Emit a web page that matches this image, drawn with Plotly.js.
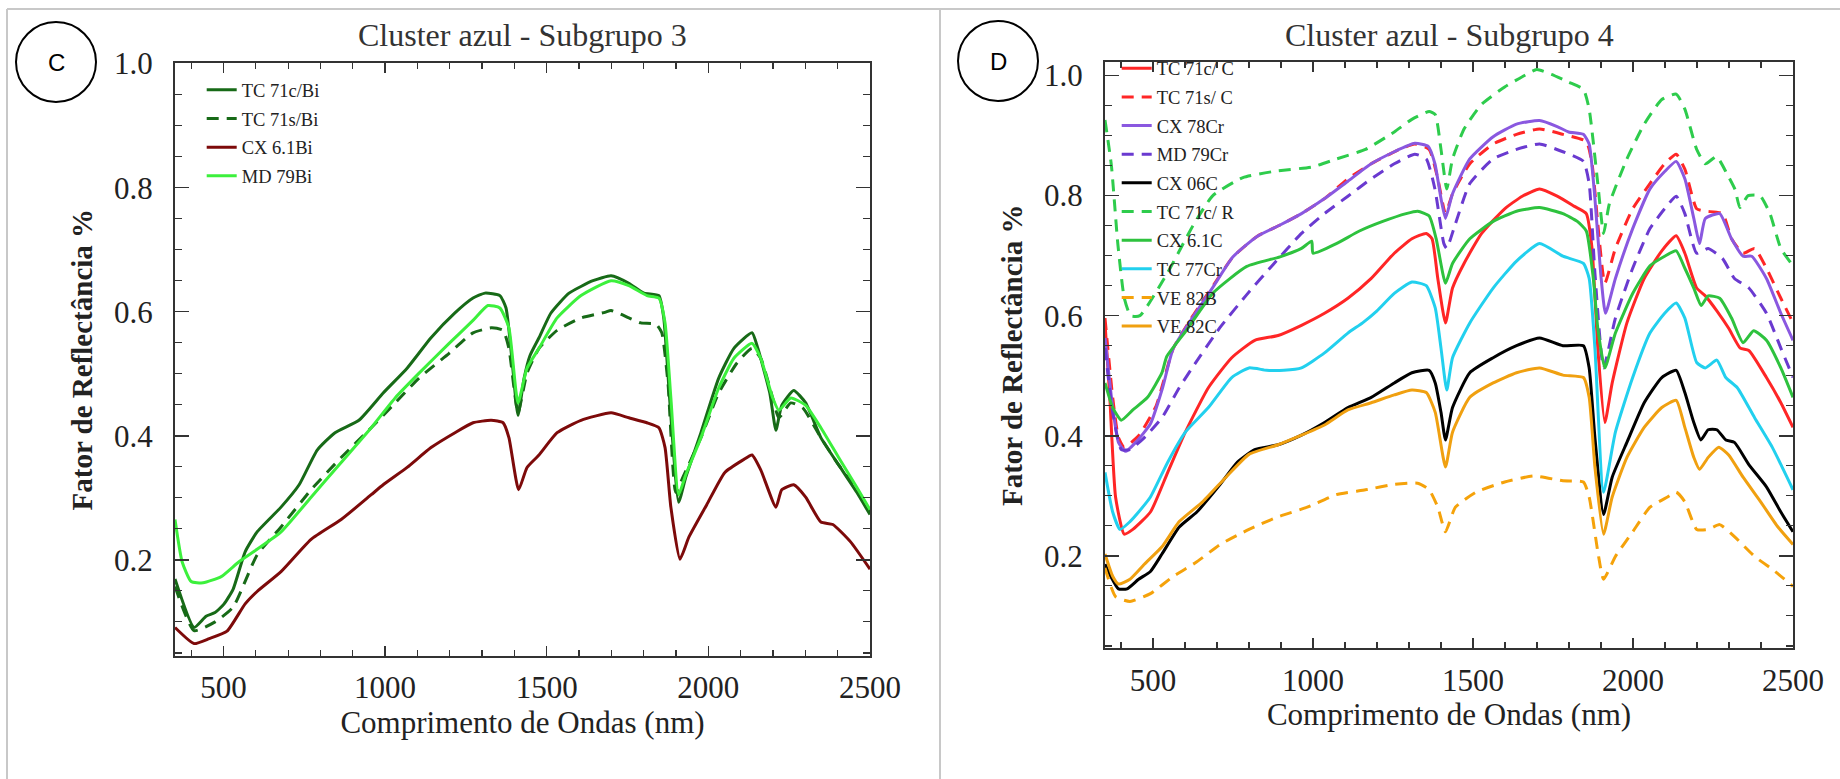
<!DOCTYPE html>
<html><head><meta charset="utf-8">
<script src="https://cdn.plot.ly/plotly-3.0.1.min.js"></script>
<style>html,body{margin:0;padding:0;background:#fff;} #chart{width:1840px;height:779px;}</style>
</head><body><div id="chart"></div>
<script>
// ---------- Panel C : Cluster azul - Subgrupo 3 ----------
const tc71cBi_x = [350,409,446,474,502,530,567,604,678,734,790,845,919,994,1068,1142,1216,1272,1309,1355,1374,1392,1411,1430,1448,1476,1513,1569,1643,1699,1754,1801,1847,1862,1880,1908,1930,1977,2032,2079,2135,2153,2190,2209,2227,2264,2301,2348,2403,2459,2500];
const tc71cBi_y = [0.169,0.091,0.109,0.115,0.129,0.153,0.213,0.245,0.285,0.321,0.377,0.405,0.425,0.469,0.509,0.558,0.598,0.622,0.630,0.626,0.606,0.525,0.433,0.493,0.529,0.558,0.598,0.630,0.650,0.658,0.646,0.630,0.626,0.590,0.461,0.293,0.333,0.405,0.493,0.541,0.566,0.541,0.469,0.409,0.449,0.473,0.453,0.397,0.353,0.309,0.273];
const tc71sBi_x = [350,409,474,530,604,678,771,864,957,1031,1105,1198,1272,1328,1365,1383,1411,1439,1476,1532,1606,1680,1699,1754,1791,1838,1856,1875,1899,1921,1977,2032,2088,2135,2162,2199,2218,2255,2292,2348,2403,2459,2500];
const tc71sBi_y = [0.157,0.086,0.100,0.124,0.208,0.253,0.313,0.365,0.413,0.453,0.493,0.533,0.566,0.574,0.570,0.541,0.437,0.501,0.541,0.570,0.590,0.599,0.602,0.590,0.582,0.580,0.566,0.485,0.309,0.333,0.397,0.469,0.517,0.541,0.525,0.461,0.429,0.453,0.445,0.397,0.353,0.313,0.277];
const cx61Bi_x = [350,409,456,511,567,604,678,771,864,957,994,1068,1142,1216,1272,1328,1365,1383,1413,1439,1476,1532,1606,1699,1754,1810,1847,1866,1884,1912,1940,1995,2051,2107,2135,2162,2209,2227,2264,2301,2348,2385,2440,2500];
const cx61Bi_y = [0.091,0.065,0.073,0.085,0.129,0.149,0.181,0.233,0.265,0.305,0.321,0.349,0.381,0.405,0.421,0.425,0.421,0.397,0.313,0.349,0.369,0.405,0.425,0.437,0.429,0.421,0.413,0.381,0.285,0.201,0.237,0.289,0.341,0.361,0.369,0.345,0.285,0.313,0.321,0.301,0.261,0.257,0.229,0.185];
const md79Bi_x = [350,372,400,437,493,548,604,678,771,864,957,1031,1105,1198,1272,1318,1355,1383,1411,1439,1476,1532,1606,1699,1754,1810,1847,1866,1884,1908,1930,1977,2032,2079,2135,2162,2199,2218,2255,2301,2348,2403,2459,2500];
const md79Bi_y = [0.265,0.197,0.165,0.163,0.173,0.197,0.217,0.245,0.301,0.357,0.413,0.461,0.501,0.549,0.586,0.610,0.606,0.574,0.453,0.509,0.541,0.590,0.626,0.650,0.642,0.626,0.622,0.582,0.461,0.305,0.337,0.397,0.477,0.525,0.549,0.525,0.461,0.441,0.461,0.449,0.413,0.365,0.317,0.281];

// ---------- Panel D : Cluster azul - Subgrupo 4 ----------
const tc71cC_x = [350,365,383,410,437,492,546,601,673,746,818,891,964,1036,1109,1182,1254,1309,1354,1372,1390,1414,1436,1472,1527,1599,1654,1708,1763,1817,1854,1872,1890,1912,1935,1981,2035,2090,2135,2162,2199,2226,2262,2299,2335,2362,2417,2462,2500];
const tc71cC_y = [0.588,0.464,0.298,0.236,0.244,0.273,0.339,0.406,0.480,0.530,0.559,0.567,0.584,0.604,0.629,0.662,0.704,0.728,0.737,0.728,0.662,0.588,0.646,0.687,0.737,0.778,0.799,0.811,0.799,0.782,0.770,0.712,0.546,0.422,0.488,0.588,0.662,0.708,0.733,0.704,0.646,0.633,0.608,0.579,0.546,0.542,0.497,0.455,0.414];
const tc71sC_x = [350,374,392,410,455,510,563,625,688,750,825,897,964,1036,1109,1182,1254,1318,1363,1390,1414,1436,1490,1563,1636,1708,1781,1854,1872,1890,1912,1945,1999,2053,2099,2135,2162,2199,2226,2280,2308,2344,2380,2417,2462,2500];
const tc71sC_y = [0.596,0.464,0.397,0.381,0.400,0.450,0.545,0.600,0.650,0.698,0.732,0.751,0.770,0.795,0.828,0.853,0.873,0.886,0.877,0.828,0.770,0.803,0.853,0.886,0.902,0.911,0.902,0.890,0.853,0.753,0.654,0.712,0.778,0.820,0.853,0.869,0.844,0.778,0.774,0.770,0.728,0.704,0.712,0.679,0.629,0.588];
const cx78Cr_x = [350,374,392,414,446,492,530,563,625,688,750,825,897,964,1036,1109,1182,1254,1318,1360,1381,1400,1414,1436,1490,1563,1636,1708,1763,1799,1845,1863,1881,1899,1914,1945,1999,2053,2099,2135,2162,2190,2208,2226,2271,2308,2344,2371,2417,2462,2500];
const cx78Cr_y = [0.563,0.447,0.389,0.374,0.389,0.420,0.480,0.545,0.598,0.648,0.698,0.732,0.751,0.770,0.795,0.824,0.853,0.873,0.887,0.882,0.853,0.795,0.762,0.803,0.861,0.898,0.919,0.925,0.915,0.906,0.902,0.886,0.795,0.671,0.604,0.662,0.745,0.811,0.840,0.857,0.828,0.762,0.720,0.762,0.770,0.728,0.699,0.699,0.662,0.604,0.559];
const md79Cr_x = [350,374,401,428,473,528,582,625,709,793,875,964,1036,1109,1182,1254,1318,1354,1381,1409,1418,1445,1490,1563,1636,1708,1781,1845,1863,1881,1908,1945,1999,2053,2099,2135,2162,2199,2235,2280,2317,2362,2417,2462,2500];
const md79Cr_y = [0.546,0.439,0.377,0.377,0.397,0.430,0.480,0.515,0.580,0.635,0.685,0.737,0.770,0.799,0.828,0.853,0.869,0.861,0.811,0.720,0.712,0.753,0.820,0.861,0.877,0.886,0.873,0.857,0.820,0.671,0.513,0.596,0.679,0.745,0.778,0.799,0.770,0.704,0.712,0.695,0.662,0.646,0.604,0.546,0.497];
const cx06C_x = [350,368,392,419,455,492,528,582,637,710,764,818,891,964,1036,1109,1182,1254,1309,1363,1382,1400,1414,1436,1490,1563,1636,1708,1781,1845,1863,1881,1908,1935,1981,2035,2090,2135,2162,2190,2212,2235,2262,2290,2317,2362,2417,2462,2500];
const cx06C_y = [0.186,0.166,0.145,0.145,0.161,0.174,0.203,0.248,0.273,0.319,0.356,0.377,0.385,0.401,0.422,0.447,0.464,0.488,0.505,0.509,0.488,0.439,0.393,0.447,0.505,0.530,0.550,0.563,0.550,0.550,0.513,0.397,0.269,0.331,0.389,0.455,0.497,0.509,0.472,0.422,0.393,0.410,0.410,0.393,0.389,0.352,0.315,0.273,0.240];
const tc71cR_x = [350,370,390,410,430,459,544,625,687,781,875,1000,1073,1164,1254,1309,1363,1382,1400,1418,1436,1472,1527,1599,1654,1699,1745,1799,1845,1863,1890,1908,1926,1981,2035,2090,2135,2162,2199,2226,2261,2293,2319,2334,2360,2397,2428,2462,2500];
const tc71cR_y = [0.926,0.850,0.720,0.630,0.600,0.600,0.670,0.750,0.800,0.830,0.840,0.848,0.861,0.877,0.906,0.927,0.940,0.935,0.877,0.811,0.861,0.911,0.952,0.981,0.998,1.010,1.002,0.989,0.977,0.944,0.820,0.737,0.786,0.861,0.919,0.960,0.969,0.944,0.877,0.853,0.865,0.837,0.810,0.780,0.800,0.800,0.770,0.712,0.683];
const cx61C_x = [350,374,401,437,483,528,543,605,688,793,897,964,996,1000,1073,1145,1218,1291,1327,1363,1385,1414,1436,1490,1563,1636,1708,1781,1826,1854,1876,1890,1912,1945,1999,2053,2099,2135,2162,2190,2213,2235,2271,2308,2344,2377,2417,2462,2500];
const cx61C_y = [0.488,0.447,0.426,0.443,0.464,0.505,0.532,0.576,0.638,0.682,0.698,0.712,0.724,0.704,0.720,0.741,0.757,0.770,0.774,0.766,0.728,0.654,0.687,0.728,0.757,0.774,0.780,0.770,0.757,0.741,0.662,0.579,0.513,0.571,0.637,0.683,0.699,0.708,0.679,0.646,0.617,0.633,0.629,0.596,0.555,0.575,0.559,0.513,0.464];
const tc77Cr_x = [350,374,397,428,455,492,546,601,673,746,800,855,909,964,1036,1109,1155,1200,1254,1309,1354,1382,1400,1418,1436,1490,1563,1636,1708,1781,1845,1863,1881,1908,1945,1999,2053,2099,2135,2162,2199,2226,2262,2290,2326,2380,2435,2500];
const tc77Cr_y = [0.339,0.273,0.244,0.257,0.273,0.298,0.356,0.406,0.447,0.497,0.513,0.509,0.509,0.513,0.538,0.571,0.588,0.608,0.637,0.656,0.650,0.613,0.546,0.476,0.530,0.588,0.646,0.691,0.720,0.699,0.687,0.662,0.546,0.306,0.406,0.497,0.571,0.604,0.621,0.596,0.522,0.513,0.526,0.497,0.480,0.430,0.381,0.310];
const ve82B_x = [350,383,428,492,564,637,710,800,891,982,1073,1164,1254,1327,1363,1390,1414,1445,1509,1599,1690,1781,1845,1863,1890,1908,1945,1999,2053,2108,2135,2162,2199,2235,2271,2317,2380,2444,2500];
const ve82B_y = [0.180,0.132,0.124,0.137,0.166,0.190,0.219,0.244,0.265,0.281,0.302,0.310,0.319,0.321,0.310,0.281,0.240,0.281,0.306,0.323,0.333,0.325,0.323,0.298,0.207,0.161,0.199,0.240,0.281,0.298,0.306,0.290,0.244,0.244,0.252,0.232,0.199,0.174,0.149];
const ve82C_x = [350,374,392,428,473,528,582,655,728,800,891,964,1036,1109,1182,1254,1309,1354,1382,1414,1436,1490,1563,1636,1708,1781,1845,1863,1881,1908,1935,1981,2035,2090,2135,2162,2190,2208,2235,2268,2299,2344,2399,2453,2500];
const ve82C_y = [0.203,0.166,0.153,0.161,0.186,0.215,0.257,0.290,0.331,0.369,0.385,0.401,0.418,0.443,0.455,0.468,0.476,0.472,0.439,0.348,0.406,0.464,0.488,0.505,0.513,0.501,0.497,0.464,0.348,0.236,0.298,0.364,0.414,0.447,0.459,0.414,0.364,0.344,0.364,0.381,0.368,0.331,0.290,0.248,0.219];

// ---------- Text ----------
const titleC = 'Cluster azul - Subgrupo 3';
const titleD = 'Cluster azul - Subgrupo 4';
const xTitle = 'Comprimento de Ondas (nm)';
const yTitle = 'Fator de Reflectância %';

const W = 1840, H = 779;
const px = v => v / W;
const py = v => 1 - v / H;
const SERIF = 'Liberation Serif, Times New Roman, serif';
const DASH = '12px,8px';

function tr(x, y, name, color, dash, axis, legend) {
  return {
    type: 'scatter', mode: 'lines', x: x, y: y, name: name,
    xaxis: axis[0], yaxis: axis[1], legend: legend, legendgroup: name,
    line: {color: color, width: 3, dash: dash || 'solid', shape: 'spline', smoothing: 0.5},
    hoverinfo: 'skip'
  };
}
const A1 = ['x', 'y'], A2 = ['x2', 'y2'];
const traces = [
  tr(tc71cBi_x, tc71cBi_y, 'TC 71c/Bi', '#176a17', null, A1, 'legend'),
  tr(tc71sBi_x, tc71sBi_y, 'TC 71s/Bi', '#176a17', DASH, A1, 'legend'),
  tr(cx61Bi_x, cx61Bi_y, 'CX 6.1Bi', '#7d0a0a', null, A1, 'legend'),
  tr(md79Bi_x, md79Bi_y, 'MD 79Bi', '#3cf03c', null, A1, 'legend'),

  tr(tc71cC_x, tc71cC_y, 'TC 71c/ C', '#ff2626', null, A2, 'legend2'),
  tr(tc71sC_x, tc71sC_y, 'TC 71s/ C', '#ff2626', DASH, A2, 'legend2'),
  tr(cx78Cr_x, cx78Cr_y, 'CX 78Cr', '#8a58e0', null, A2, 'legend2'),
  tr(md79Cr_x, md79Cr_y, 'MD 79Cr', '#6a3ad0', DASH, A2, 'legend2'),
  tr(cx06C_x, cx06C_y, 'CX 06C', '#000000', null, A2, 'legend2'),
  tr(tc71cR_x, tc71cR_y, 'TC 71c/ R', '#2ecc4c', DASH, A2, 'legend2'),
  tr(cx61C_x, cx61C_y, 'CX 6.1C', '#2ec23e', null, A2, 'legend2'),
  tr(tc77Cr_x, tc77Cr_y, 'TC 77Cr', '#22d0ee', null, A2, 'legend2'),
  tr(ve82B_x, ve82B_y, 'VE 82B', '#f5a20a', DASH, A2, 'legend2'),
  tr(ve82C_x, ve82C_y, 'VE 82C', '#f0a010', null, A2, 'legend2')
];

function xax(domain) {
  return {
    domain: domain, range: [350, 2500], tick0: 0, dtick: 500,
    ticks: 'inside', ticklen: 10, tickwidth: 1.5, tickcolor: '#333',
    minor: {dtick: 100, tick0: 0, ticks: 'inside', ticklen: 6, tickwidth: 1.2, tickcolor: '#333'},
    showline: true, linecolor: '#333', linewidth: 2, mirror: 'ticks',
    showgrid: false, zeroline: false, ticklabelstandoff: 3,
    tickfont: {family: SERIF, size: 31, color: '#222'},
    title: {text: xTitle, font: {family: SERIF, size: 31, color: '#222'}, standoff: 0}
  };
}
function yax(domain, range, anchor) {
  return {
    domain: domain, range: range, anchor: anchor, tick0: 0, dtick: 0.2, tickformat: '.1f',
    ticks: 'inside', ticklen: 14, tickwidth: 1.5, tickcolor: '#333',
    minor: {dtick: 0.05, tick0: 0, ticks: 'inside', ticklen: 7, tickwidth: 1.2, tickcolor: '#333'},
    showline: true, linecolor: '#333', linewidth: 2, mirror: 'ticks',
    showgrid: false, zeroline: false, ticklabelstandoff: 14,
    tickfont: {family: SERIF, size: 31, color: '#222'},
    title: {text: yTitle, font: {family: SERIF, size: 29, color: '#222', weight: 'bold'}, standoff: 13}
  };
}
function leg(xPx, yPx) {
  return {
    x: px(xPx), xanchor: 'left', y: py(yPx), yanchor: 'top',
    bgcolor: 'rgba(0,0,0,0)', borderwidth: 0, traceorder: 'grouped', tracegroupgap: 1.6,
    font: {family: SERIF, size: 18.5, color: '#222'}, itemwidth: 30, itemclick: false, itemdoubleclick: false
  };
}

const grey = {color: '#c8c8c8', width: 2};
const layout = {
  width: W, height: H, margin: {l: 0, r: 0, t: 0, b: 0},
  paper_bgcolor: '#ffffff', plot_bgcolor: '#ffffff', showlegend: true,
  xaxis: Object.assign(xax([px(175), px(870)]), {anchor: 'y'}),
  yaxis: yax([1 - 656 / H, 1 - 63.3 / H], [0.045, 1.0005], 'x'),
  xaxis2: Object.assign(xax([px(1105), px(1793)]), {anchor: 'y2'}),
  yaxis2: yax([1 - 648.3 / H, 1 - 62.3 / H], [0.046, 1.022], 'x2'),
  legend: leg(201.7, 71.3),
  legend2: leg(1116.7, 49.7),
  annotations: [
    {text: titleC, xref: 'paper', yref: 'paper', x: px(522.5), y: py(35), xanchor: 'center', yanchor: 'middle', showarrow: false, font: {family: SERIF, size: 32, color: '#333'}},
    {text: titleD, xref: 'paper', yref: 'paper', x: px(1449), y: py(35), xanchor: 'center', yanchor: 'middle', showarrow: false, font: {family: SERIF, size: 32, color: '#333'}},
    {text: 'C', xref: 'paper', yref: 'paper', x: px(56), y: py(62), xanchor: 'center', yanchor: 'middle', showarrow: false, font: {family: 'Liberation Sans, Arial, sans-serif', size: 24, color: '#000'}},
    {text: 'D', xref: 'paper', yref: 'paper', x: px(998), y: py(61), xanchor: 'center', yanchor: 'middle', showarrow: false, font: {family: 'Liberation Sans, Arial, sans-serif', size: 24, color: '#000'}}
  ],
  shapes: [
    {type: 'line', xref: 'paper', yref: 'paper', x0: px(7), x1: 1, y0: py(9), y1: py(9), line: grey, layer: 'below'},
    {type: 'line', xref: 'paper', yref: 'paper', x0: px(7), x1: px(7), y0: 0, y1: py(9), line: grey, layer: 'below'},
    {type: 'line', xref: 'paper', yref: 'paper', x0: px(940), x1: px(940), y0: 0, y1: py(9), line: grey, layer: 'below'},
    {type: 'circle', xref: 'paper', yref: 'paper', x0: px(16), x1: px(96), y0: py(102), y1: py(22), line: {color: '#000', width: 2}},
    {type: 'circle', xref: 'paper', yref: 'paper', x0: px(958), x1: px(1038), y0: py(101), y1: py(21), line: {color: '#000', width: 2}}
  ]
};

Plotly.newPlot('chart', traces, layout, {staticPlot: true, displayModeBar: false});
</script></body></html>
